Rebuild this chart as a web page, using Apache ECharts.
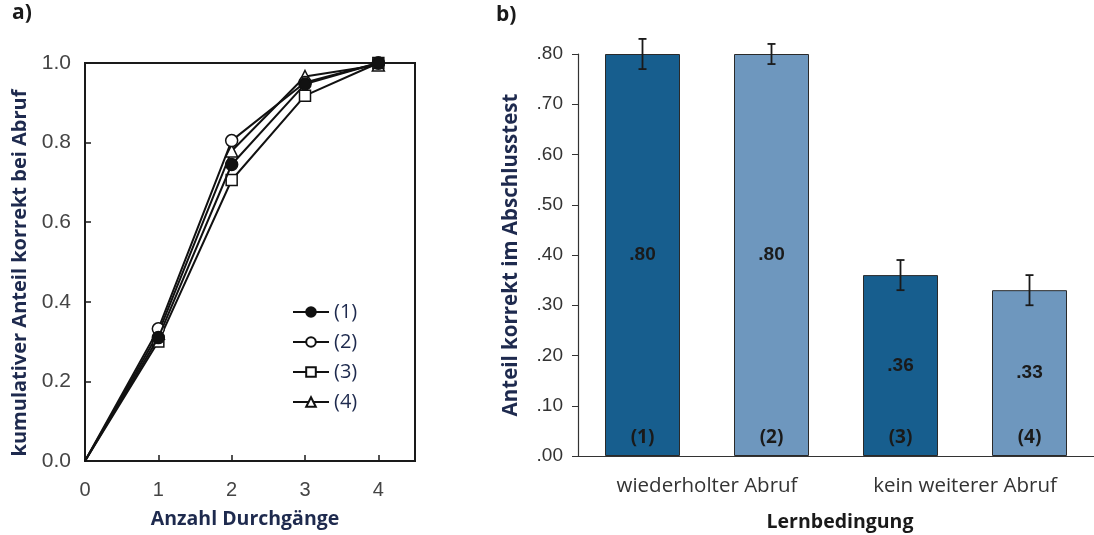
<!DOCTYPE html>
<html><head><meta charset="utf-8">
<script src="https://cdn.jsdelivr.net/npm/echarts@6/dist/echarts.min.js"></script>
<style>html,body{margin:0;padding:0;background:#fff}#c{width:1094px;height:535px}</style>
</head><body><div id="c"></div>
<script>
// ---- Panel a) data ----
const trials = [0, 1, 2, 3, 4];
const legendNames = ['(1)', '(2)', '(3)', '(4)'];
const cum1 = [0, 0.31, 0.745, 0.947, 1.0];
const cum2 = [0, 0.332, 0.805, 0.951, 1.0];
const cum3 = [0, 0.30, 0.706, 0.918, 1.0];
const cum4 = [0, 0.321, 0.779, 0.966, 0.995];

// ---- Panel b) data ----
const conditions = ['(1)', '(2)', '(3)', '(4)'];
const groupLabels = ['wiederholter Abruf', 'kein weiterer Abruf'];
const accuracy = [0.80, 0.80, 0.36, 0.33];
const errors = [0.03, 0.02, 0.03, 0.03];

const NAVY = '#1e2a4e';
const CAL = '"Open Sans", Lato, sans-serif';
const ARIAL = '"Liberation Sans", Arial, sans-serif';
const DARK = '#175e8e', LIGHT = '#6e97be';

const symbols = ['circle', 'emptyCircle', 'emptyRect', 'emptyTriangle'];
const cums = [cum1, cum2, cum3, cum4];

const lineSeries = cums.map((arr, i) => ({
  type: 'line', name: legendNames[i], xAxisIndex: 0, yAxisIndex: 0,
  data: arr.map((v, k) => k === 0 ? { value: [trials[k], v], symbol: 'none' } : [trials[k], v]),
  symbol: symbols[i].replace('empty', '').toLowerCase(),
  symbolSize: symbols[i] === 'emptyRect' ? 11 : 12,
  lineStyle: { color: '#111', width: 2 },
  itemStyle: { color: i === 0 ? '#111' : '#fff', borderColor: '#111', borderWidth: 1.5 },
  z: 3 + (3 - i)
}));

const chart = echarts.init(document.getElementById('c'));
chart.setOption({
  animation: false,
  backgroundColor: '#fff',
  grid: [
    { left: 85, top: 63, width: 330, height: 398, show: true, borderColor: '#1a1a1a', borderWidth: 2, backgroundColor: 'transparent' },
    { left: 578, top: 54, width: 522, height: 402 }
  ],
  legend: {
    data: legendNames, orient: 'vertical', left: 287, top: 297,
    itemWidth: 36, itemHeight: 12, itemGap: 10,
    textStyle: { color: NAVY, fontFamily: CAL, fontSize: 20 },
    inactiveColor: '#ccc'
  },
  xAxis: [
    { gridIndex: 0, type: 'value', min: 0, max: 4.5, interval: 1,
      axisLine: { lineStyle: { color: '#1a1a1a', width: 2 } },
      axisTick: { inside: true, length: 6, lineStyle: { color: '#1a1a1a', width: 1.5 } },
      axisLabel: { color: '#444', fontFamily: ARIAL, fontSize: 20, margin: 19, showMaxLabel: false,
        formatter: v => Number.isInteger(v) ? String(v) : '' },
      splitLine: { show: false } },
    { gridIndex: 1, type: 'category', data: conditions,
      axisLine: { lineStyle: { color: '#333', width: 1.2 } },
      axisTick: { length: 6, lineStyle: { color: '#333' } },
      axisLabel: { show: false } },
    { gridIndex: 1, type: 'category', data: groupLabels, position: 'bottom',
      axisLine: { show: false }, axisTick: { show: false },
      axisLabel: { color: '#333', fontFamily: CAL, fontSize: 20.5, margin: 20 } }
  ],
  yAxis: [
    { gridIndex: 0, type: 'value', min: 0, max: 1, interval: 0.2,
      axisLine: { show: true, lineStyle: { color: '#1a1a1a', width: 2 } },
      axisTick: { show: true, inside: true, length: 6, lineStyle: { color: '#1a1a1a', width: 1.5 } },
      axisLabel: { color: '#444', fontFamily: ARIAL, fontSize: 21, margin: 14, formatter: v => v.toFixed(1) },
      splitLine: { show: false } },
    { gridIndex: 1, type: 'value', min: 0, max: 0.8, interval: 0.1,
      axisLine: { show: true, lineStyle: { color: '#333', width: 1.2 } },
      axisTick: { show: true, length: 6, lineStyle: { color: '#333' } },
      axisLabel: { color: '#333', fontFamily: ARIAL, fontSize: 19, margin: 15,
        formatter: v => v.toFixed(2).replace(/^0/, '') },
      splitLine: { show: false } }
  ],
  series: [
    ...lineSeries,
    { type: 'bar', xAxisIndex: 1, yAxisIndex: 1, barWidth: 75,
      data: accuracy.map((v, i) => ({ value: v, itemStyle: { color: i % 2 === 0 ? DARK : LIGHT } })),
      itemStyle: { borderColor: '#2a2a2a', borderWidth: 1 },
      label: { show: true, position: 'inside', color: '#1a1a1a', fontFamily: ARIAL, fontWeight: 'bold', fontSize: 19,
        formatter: p => p.value.toFixed(2).replace(/^0/, '') },
      z: 2 },
    { type: 'bar', xAxisIndex: 1, yAxisIndex: 1, barWidth: 75, barGap: '-100%',
      data: accuracy.map(v => v),
      itemStyle: { color: 'transparent' },
      label: { show: true, position: 'insideBottom', distance: 9, color: '#1a1a1a', fontFamily: CAL,
        fontWeight: 'bold', fontSize: 19, formatter: p => conditions[p.dataIndex] },
      z: 3 },
    { type: 'custom', xAxisIndex: 1, yAxisIndex: 1, z: 5,
      data: accuracy.map((v, i) => [i, v - errors[i], v + errors[i]]),
      renderItem: (params, api) => {
        const x = api.value(0);
        const lo = api.coord([x, api.value(1)]);
        const hi = api.coord([x, api.value(2)]);
        const w = 4;
        const st = { stroke: '#1a1a1a', lineWidth: 1.8 };
        return { type: 'group', children: [
          { type: 'line', shape: { x1: lo[0], y1: lo[1], x2: hi[0], y2: hi[1] }, style: st },
          { type: 'line', shape: { x1: hi[0] - w, y1: hi[1], x2: hi[0] + w, y2: hi[1] }, style: st },
          { type: 'line', shape: { x1: lo[0] - w, y1: lo[1], x2: lo[0] + w, y2: lo[1] }, style: st }
        ]};
      } }
  ],
  graphic: [
    { type: 'text', left: 12, top: 3, style: { text: 'a)', font: 'bold 21px ' + CAL, fill: '#1a1a1a' } },
    { type: 'text', left: 496, top: 5, style: { text: 'b)', font: 'bold 21px ' + CAL, fill: '#1a1a1a' } },
    { type: 'text', x: 20, y: 273, rotation: Math.PI / 2,
      style: { text: 'kumulativer Anteil korrekt bei Abruf', font: 'bold 20px ' + CAL, fill: NAVY, align: 'center', verticalAlign: 'middle' } },
    { type: 'text', x: 245, y: 519,
      style: { text: 'Anzahl Durchgänge', font: 'bold 19.5px ' + CAL, fill: NAVY, align: 'center', verticalAlign: 'middle' } },
    { type: 'text', x: 511, y: 255, rotation: Math.PI / 2,
      style: { text: 'Anteil korrekt im Abschlusstest', font: 'bold 20.5px ' + CAL, fill: NAVY, align: 'center', verticalAlign: 'middle' } },
    { type: 'text', x: 840, y: 522,
      style: { text: 'Lernbedingung', font: 'bold 19.5px ' + CAL, fill: '#1a1a1a', align: 'center', verticalAlign: 'middle' } }
  ]
});
</script></body></html>
